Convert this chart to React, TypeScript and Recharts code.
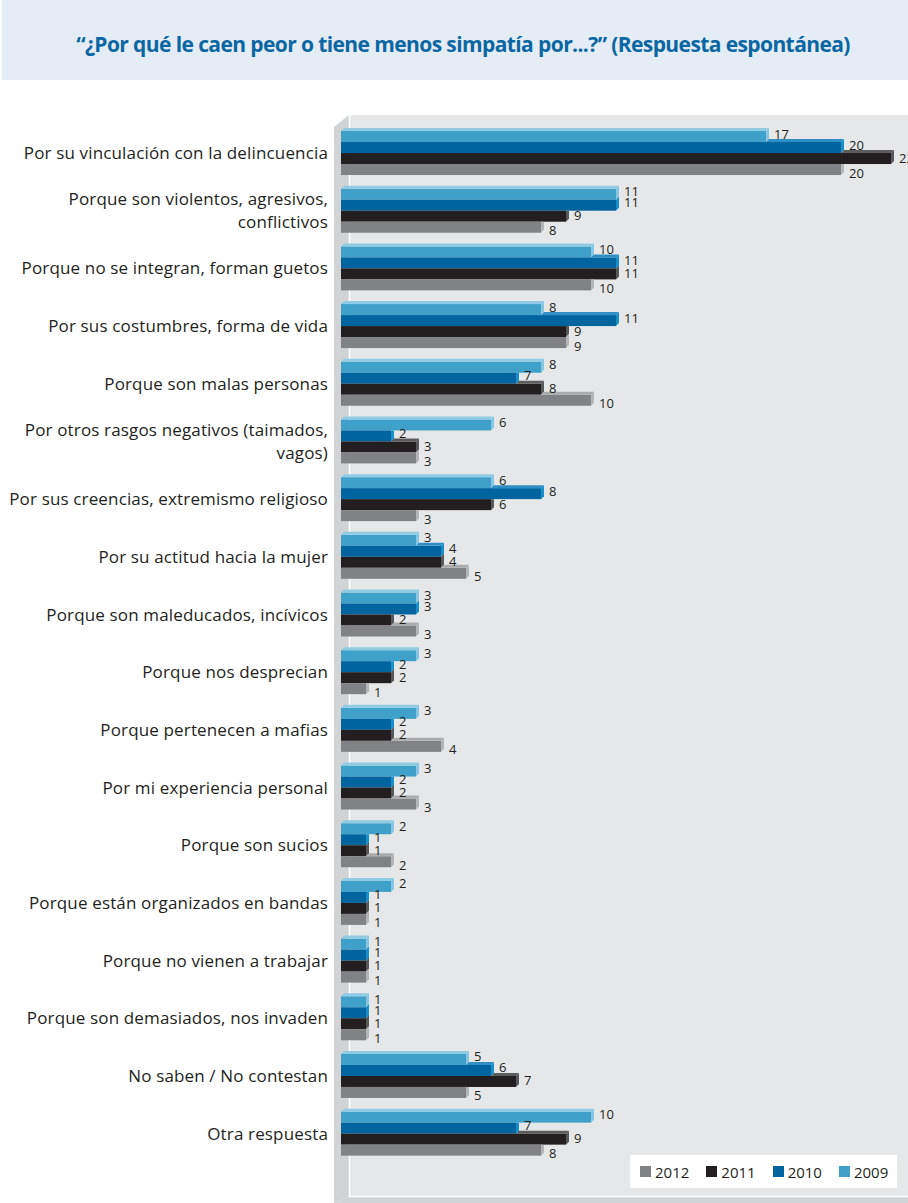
import React from 'react';
import { BarChart, Bar, XAxis, YAxis, Legend, LabelList } from 'recharts';

const categories = [
  'Por su vinculación con la delincuencia',
  'Porque son violentos, agresivos,\nconflictivos',
  'Porque no se integran, forman guetos',
  'Por sus costumbres, forma de vida',
  'Porque son malas personas',
  'Por otros rasgos negativos (taimados,\nvagos)',
  'Por sus creencias, extremismo religioso',
  'Por su actitud hacia la mujer',
  'Porque son maleducados, incívicos',
  'Porque nos desprecian',
  'Porque pertenecen a mafias',
  'Por mi experiencia personal',
  'Porque son sucios',
  'Porque están organizados en bandas',
  'Porque no vienen a trabajar',
  'Porque son demasiados, nos invaden',
  'No saben / No contestan',
  'Otra respuesta',
];

const values2009 = [17, 11, 10, 8, 8, 6, 6, 3, 3, 3, 3, 3, 2, 2, 1, 1, 5, 10];
const values2010 = [20, 11, 11, 11, 7, 2, 8, 4, 3, 2, 2, 2, 1, 1, 1, 1, 6, 7];
const values2011 = [22, 9, 11, 9, 8, 3, 6, 4, 2, 2, 2, 2, 1, 1, 1, 1, 7, 9];
const values2012 = [20, 8, 10, 9, 10, 3, 3, 5, 3, 1, 4, 3, 2, 1, 1, 1, 5, 8];

const seriesKeys = ['y2009', 'y2010', 'y2011', 'y2012'];
const seriesNames = ['2009', '2010', '2011', '2012'];
const legendOrder = ['2012', '2011', '2010', '2009'];

const mainColors = ['#3fa1c9', '#00659f', '#231f20', '#808285'];
const topColors = ['#8fcbe3', '#2f8fc4', '#5c5c5e', '#a9abad'];
const capColors = ['#86c6e0', '#1590cb', '#57585a', '#b3b5b7'];
const labelDy = [-3, -3, -1, 3];

const rows = categories.map((category, i) => ({
  category,
  y2009: values2009[i],
  y2010: values2010[i],
  y2011: values2011[i],
  y2012: values2012[i],
}));

const D = 3;

const makeShape = (k: number) => (props: any) => {
  const { x, y, width, height, payload } = props;
  const key = seriesKeys[k];
  const prevW = k > 0 ? (width * payload[seriesKeys[k - 1]]) / payload[key] : 0;
  const w = width;
  const parts: any[] = [];
  parts.push(<rect key="m" x={x} y={y} width={w} height={height} fill={mainColors[k]} />);
  if (w > prevW) {
    const pts = [
      [x + prevW, y],
      [x + prevW + D, y - D],
      [x + w + D, y - D],
      [x + w, y],
    ];
    parts.push(<polygon key="t" points={pts.map((p) => p.join(',')).join(' ')} fill={topColors[k]} />);
  }
  const capPts =
    w >= prevW
      ? [
          [x + w, y],
          [x + w + D, y - D],
          [x + w + D, y + height - D],
          [x + w, y + height],
        ]
      : [
          [x + w, y],
          [x + w + D, y],
          [x + w + D, y + height - D],
          [x + w, y + height],
        ];
  parts.push(<polygon key="c" points={capPts.map((p) => p.join(',')).join(' ')} fill={capColors[k]} />);
  return <g>{parts}</g>;
};

const makeLabel = (k: number) => (props: any) => {
  const { x, y, width, height, value } = props;
  return (
    <text
      x={x + width + 8}
      y={y + height / 2 + labelDy[k]}
      dominantBaseline="central"
      fontSize={13}
      fill="#231f20"
      fontFamily="'Open Sans', sans-serif"
    >
      {value}
    </text>
  );
};

const CategoryTick = (props: any) => {
  const { x, y, payload } = props;
  const lines = String(payload.value).split('\n');
  const lh = 23.5;
  const start = y - ((lines.length - 1) * lh) / 2;
  return (
    <text
      textAnchor="end"
      fontSize={17}
      letterSpacing={0.15}
      fill="#231f20"
      fontFamily="'Open Sans', sans-serif"
    >
      {lines.map((l, i) => (
        <tspan key={i} x={x} y={start + i * lh} dominantBaseline="central">
          {l}
        </tspan>
      ))}
    </text>
  );
};

const LegendContent = () => (
  <div
    style={{
      background: '#ffffff',
      width: 267,
      height: 33,
      display: 'flex',
      alignItems: 'center',
      paddingLeft: 10,
      boxSizing: 'border-box',
      fontFamily: "'Open Sans', sans-serif",
      fontSize: 15,
      color: '#231f20',
    }}
  >
    {legendOrder.map((name) => {
      const idx = seriesNames.indexOf(name);
      return (
        <div key={name} style={{ display: 'flex', alignItems: 'center', marginRight: 17 }}>
          <div style={{ width: 11, height: 11, background: mainColors[idx], marginRight: 4 }} />
          <span>{name}</span>
        </div>
      );
    })}
  </div>
);

const Backdrop = () => (
  <svg width={908} height={1203} style={{ position: 'absolute', left: 0, top: 0 }}>
    <rect x={2} y={0} width={906} height={80} fill="#e4ecf5" />
    <rect x={349} y={115} width={559} height={1082} fill="#e6e7e8" />
    <polygon points="334,127 349,115 349,1197 334,1203" fill="#d1d3d4" />
    <polygon points="349,1197 908,1197 908,1203 334,1203" fill="#d1d3d4" />
    <line x1={349.5} y1={115} x2={349.5} y2={1197} stroke="#ffffff" strokeWidth={1.5} />
    <line x1={349} y1={1196.5} x2={908} y2={1196.5} stroke="#ffffff" strokeWidth={1.5} />
  </svg>
);

export default function App() {
  return (
    <div style={{ position: 'absolute', left: 0, top: 0, width: 908, height: 1203, background: '#ffffff', overflow: 'hidden' }}>
      <Backdrop />
      <div
        style={{
          position: 'absolute',
          left: 2,
          top: 0,
          width: 906,
          height: 80,
          display: 'flex',
          alignItems: 'center',
          justifyContent: 'center',
          fontFamily: "'Open Sans', sans-serif",
          fontWeight: 700,
          fontSize: 21,
          letterSpacing: -0.6,
          color: '#0a67a3',
          paddingTop: 8,
          paddingLeft: 16,
          boxSizing: 'border-box',
        }}
      >
        “¿Por qué le caen peor o tiene menos simpatía por...?” (Respuesta espontánea)
      </div>
      <div style={{ position: 'absolute', left: 0, top: 0 }}>
        <BarChart
          width={908}
          height={1203}
          layout="vertical"
          data={rows}
          margin={{ top: 123.7, bottom: 41, left: 0, right: 17 }}
          barCategoryGap="12.7%"
          barGap={0}
        >
          <XAxis type="number" domain={[0, 22]} hide />
          <YAxis
            type="category"
            dataKey="category"
            width={341}
            axisLine={false}
            tickLine={false}
            tickMargin={7}
            interval={0}
            tick={<CategoryTick />}
          />
          {seriesKeys.map((key, k) => (
            <Bar
              key={key}
              dataKey={key}
              name={seriesNames[k]}
              fill={mainColors[k]}
              isAnimationActive={false}
              shape={makeShape(k)}
            >
              <LabelList dataKey={key} content={makeLabel(k)} />
            </Bar>
          ))}
          <Legend
            layout="horizontal"
            verticalAlign="middle"
            align="center"
            content={<LegendContent />}
            wrapperStyle={{ left: 630, top: 1155, width: 267, height: 33 }}
          />
        </BarChart>
      </div>
    </div>
  );
}
